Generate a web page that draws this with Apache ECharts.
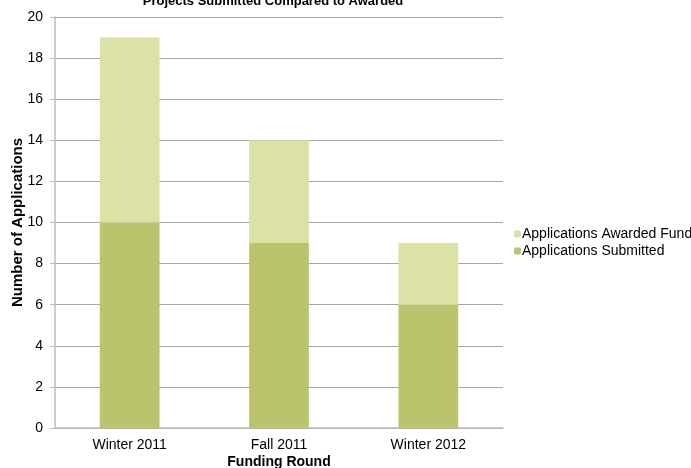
<!DOCTYPE html>
<html><head><meta charset="utf-8">
<script src="https://cdn.jsdelivr.net/npm/echarts@6/dist/echarts.min.js"></script>
<style>html,body{margin:0;padding:0;background:#fff}#c{width:691px;height:468px}</style>
</head><body><div id="c"></div>
<script>
var categories = ["Winter 2011", "Fall 2011", "Winter 2012"];
var submitted = [10, 9, 6];
var awarded = [9, 5, 3];
var yTicks = [0, 2, 4, 6, 8, 10, 12, 14, 16, 18, 20];

var chart = echarts.init(document.getElementById('c'));
var ff = 'Liberation Sans, Arial, sans-serif';
chart.setOption({
  animation: false,
  textStyle: {fontFamily: ff},
  title: {text: 'Projects Submitted Compared to Awarded', left: 268, textAlign: 'center', top: -10,
    textStyle: {fontSize: 13, fontWeight: 'bold', color: '#000', fontFamily: ff}},
  legend: {left: 509, top: 222, orient: 'vertical', itemWidth: 7, itemHeight: 7, itemGap: 3,
    textStyle: {fontSize: 14, color: '#000', fontFamily: ff, padding: [0,0,0,-4]},
    data: ['Applications Awarded Funding', 'Applications Submitted']},
  grid: {left: 55, right: 188, top: 17, bottom: 40, outerBoundsMode: 'none'},
  xAxis: {type: 'category', data: categories,
    name: 'Funding Round', nameLocation: 'middle', nameGap: 27, nameMoveOverlap: false,
    nameTextStyle: {fontSize: 14, fontWeight: 'bold', color: '#000', fontFamily: ff},
    axisLine: {lineStyle: {color: '#bdbdbd', width: 1.5}},
    axisTick: {show: false},
    axisLabel: {fontSize: 14, color: '#000', margin: 10, fontFamily: ff}},
  yAxis: {type: 'value', min: yTicks[0], max: yTicks[yTicks.length-1], interval: 2,
    name: 'Number of Applications', nameLocation: 'middle', nameGap: 30, nameRotate: 90, nameMoveOverlap: false,
    nameTextStyle: {fontSize: 15, fontWeight: 'bold', color: '#000', fontFamily: ff},
    axisLine: {show: true, lineStyle: {color: '#bdbdbd', width: 1.5}},
    axisTick: {show: true, length: 5, lineStyle: {color: '#bdbdbd'}},
    axisLabel: {fontSize: 14, color: '#000', margin: 12, fontFamily: ff},
    splitLine: {lineStyle: {color: '#a6a6a6', width: 1}}},
  series: [
    {name: 'Applications Submitted', type: 'bar', stack: 'a', data: submitted,
      barWidth: '40%', itemStyle: {color: '#bbc36d'}},
    {name: 'Applications Awarded Funding', type: 'bar', stack: 'a', data: awarded,
      barWidth: '40%', itemStyle: {color: '#dce2a6'}}
  ]
});
</script></body></html>
